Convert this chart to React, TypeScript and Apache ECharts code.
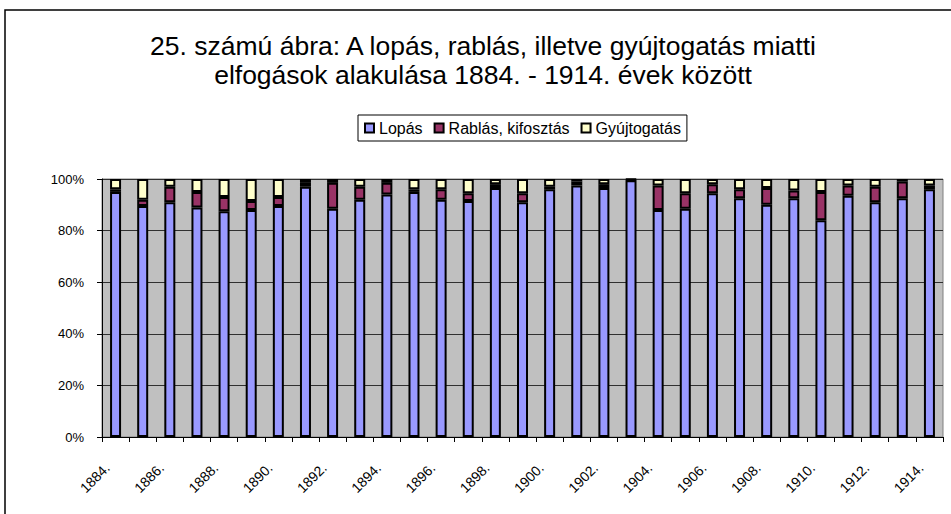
import React, { useEffect, useRef } from "react";
import * as echarts from "echarts";

const years = [
  "1884.", "1885.", "1886.", "1887.", "1888.", "1889.", "1890.", "1891.", "1892.", "1893.",
  "1894.", "1895.", "1896.", "1897.", "1898.", "1899.", "1900.", "1901.", "1902.", "1903.",
  "1904.", "1905.", "1906.", "1907.", "1908.", "1909.", "1910.", "1911.", "1912.", "1913.", "1914.",
];
const lopas = [95, 89.5, 91, 89, 87.5, 88, 89.5, 97, 88.5, 92, 94, 95, 92, 91.5, 96.5, 91, 96, 97.5, 96.5, 99.5, 88, 88.5, 94.5, 92.5, 90, 92.5, 84, 93.5, 91, 92.5, 96];
const rablas = [1, 2.5, 6, 6, 5.5, 3.5, 3.5, 1.5, 10, 5, 4.5, 1, 4, 3, 1.5, 3.5, 1, 1.5, 1.5, 0.3, 9.5, 6, 3.5, 3.5, 6.5, 3, 11, 4, 6, 6.5, 1.5];
const gyujt = [4, 8, 3, 5, 7, 8.5, 7, 1.5, 1.5, 3, 1.5, 4, 4, 5.5, 2, 5.5, 3, 1, 2, 0.2, 2.5, 5.5, 2, 4, 3.5, 4.5, 5, 2.5, 3, 1, 2.5];
const seriesNames = ["Lopás", "Rablás, kifosztás", "Gyújtogatás"];
const titleLines = [
  "25. számú ábra: A lopás, rablás, illetve gyújtogatás miatti",
  "elfogások alakulása 1884. - 1914. évek között",
];

const FONT = "'Liberation Sans', Arial, sans-serif";

export default function App() {
  const ref = useRef<HTMLDivElement>(null);
  useEffect(() => {
    if (!ref.current) return;
    const chart = echarts.init(ref.current, null, { renderer: "svg" });
    const colors = ["#9999FF", "#993366", "#FFFFCC"];
    const datasets = [lopas, rablas, gyujt];
    chart.setOption({
      animation: false,
      backgroundColor: "#FFFFFF",
      textStyle: { fontFamily: FONT },
      graphic: [
        {
          type: "rect",
          shape: { x: 5, y: 10, width: 1000, height: 600 },
          style: { fill: "none", stroke: "#000", lineWidth: 1.5 },
          silent: true,
        },
        {
          type: "text",
          x: 483,
          y: 46,
          style: {
            text: titleLines[0],
            textAlign: "center",
            textVerticalAlign: "middle",
            fontSize: 26.5,
            fontFamily: FONT,
            fill: "#000",
          },
        },
        {
          type: "text",
          x: 483,
          y: 75,
          style: {
            text: titleLines[1],
            textAlign: "center",
            textVerticalAlign: "middle",
            fontSize: 26.5,
            fontFamily: FONT,
            fill: "#000",
          },
        },
      ],
      legend: {
        left: 358,
        top: 115,
        padding: [5, 6, 5, 6],
        itemWidth: 9,
        itemHeight: 9,
        itemGap: 11,
        icon: "rect",
        borderColor: "#000",
        borderWidth: 1,
        backgroundColor: "#fff",
        textStyle: { fontSize: 16, fontFamily: FONT, color: "#000" },
        data: seriesNames,
      },
      grid: {
        left: 102,
        right: 8,
        top: 179,
        bottom: 77,
        show: true,
        backgroundColor: "#C0C0C0",
        borderColor: "#808080",
        borderWidth: 1,
      },
      xAxis: {
        type: "category",
        data: years,
        boundaryGap: true,
        axisLine: { lineStyle: { color: "#000", width: 1 } },
        axisTick: { show: true, interval: 0, length: 5, lineStyle: { color: "#000" } },
        axisLabel: {
          interval: 1,
          rotate: 45,
          margin: 20,
          padding: [0, 12, 0, 0],
          fontSize: 14,
          fontFamily: FONT,
          color: "#000",
        },
      },
      yAxis: {
        type: "value",
        min: 0,
        max: 100,
        interval: 20,
        axisLine: { show: true, lineStyle: { color: "#000", width: 1 } },
        axisTick: { show: true, length: 5, lineStyle: { color: "#000" } },
        axisLabel: {
          formatter: "{value}%",
          margin: 18,
          fontSize: 13,
          fontFamily: FONT,
          color: "#000",
        },
        splitLine: { show: true, lineStyle: { color: "#303030", width: 1 } },
      },
      series: seriesNames.map((name, i) => ({
        name,
        type: "bar",
        stack: "total",
        barWidth: 11,
        data: datasets[i],
        itemStyle: { color: colors[i], borderColor: "#000", borderWidth: 2 },
        emphasis: { disabled: true },
      })),
    });
    return () => chart.dispose();
  }, []);
  return (
    <div
      ref={ref}
      style={{ position: "fixed", left: 0, top: 0, width: 951, height: 514 }}
    />
  );
}
